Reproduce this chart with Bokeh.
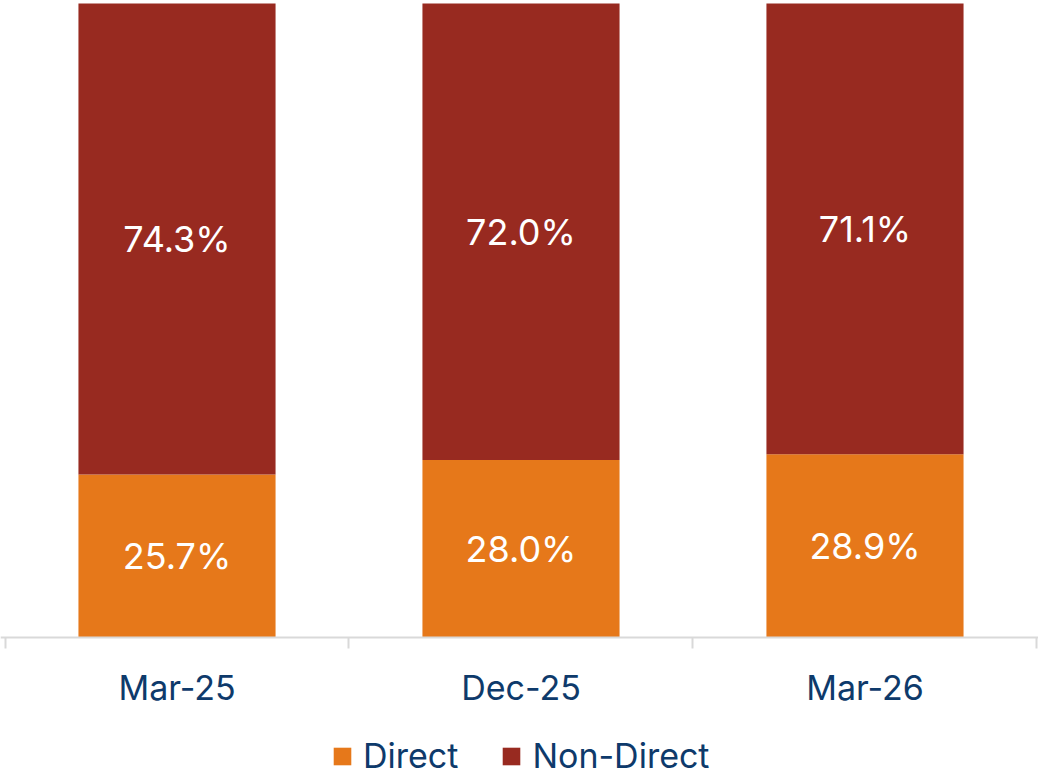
import numpy as np
from bokeh.plotting import figure
from bokeh.models import Range1d, FixedTicker, ColumnDataSource, Legend, LegendItem
from bokeh.core.properties import value
from bokeh.embed import file_html
from bokeh.resources import INLINE

categories = ["Mar-25", "Dec-25", "Mar-26"]
direct = [25.7, 28.0, 28.9]
non_direct = [74.3, 72.0, 71.1]
series_names = ["Direct", "Non-Direct"]
colors = ["#E6781A", "#982A20"]

FONT = "Inter"
NAVY = "#0E3A6B"

x = np.arange(len(categories)) + 0.5
src = ColumnDataSource(dict(x=x, Direct=direct, NonDirect=non_direct))

p = figure(frame_width=1038, frame_height=776, output_backend="svg", toolbar_location=None,
           x_range=Range1d(-0.0131, 3.0044), y_range=Range1d(-21.92, 100.47),
           min_border_left=0, min_border_right=0, min_border_top=0, min_border_bottom=0)
p.outline_line_color = None
p.grid.grid_line_color = None
p.yaxis.visible = False
p.background_fill_color = "white"

r = p.vbar_stack(["Direct", "NonDirect"], x="x", width=0.573, color=colors,
                 line_color=None, source=src)

d = np.array(direct)
n = np.array(non_direct)
lab_src1 = ColumnDataSource(dict(x=x, y=d / 2, t=[f"{v:.1f}%" for v in d]))
lab_src2 = ColumnDataSource(dict(x=x, y=d + n / 2, t=[f"{v:.1f}%" for v in n]))
for s in (lab_src1, lab_src2):
    p.text(x="x", y="y", text="t", source=s, text_color="white",
           text_font=value(FONT), text_font_size="36px",
           text_align="center", text_baseline="middle")

ax = p.xaxis[0]
ax.fixed_location = 0
ax.ticker = FixedTicker(ticks=list(x), minor_ticks=list(range(len(categories) + 1)))
ax.major_label_overrides = {float(xx): c for xx, c in zip(x, categories)}
ax.major_tick_out = 0
ax.major_tick_in = 0
ax.minor_tick_out = 11
ax.minor_tick_in = 0
ax.minor_tick_line_color = "#D9D9D9"
ax.minor_tick_line_width = 2
ax.axis_line_color = "#D9D9D9"
ax.axis_line_width = 2
ax.major_label_text_font = FONT
ax.major_label_text_font_size = "34px"
ax.major_label_text_color = NAVY
ax.major_label_standoff = 18

legend = Legend(items=[LegendItem(label=series_names[i], renderers=[r[i]]) for i in range(2)],
                orientation="horizontal", location=(331, 0),
                label_text_font=FONT, label_text_font_size="34px", label_text_color=NAVY,
                glyph_width=22, glyph_height=22, spacing=42, label_standoff=10,
                border_line_color=None, background_fill_alpha=0, padding=0, margin=0)
p.add_layout(legend)

open("out.html", "w").write(file_html(p, INLINE))
